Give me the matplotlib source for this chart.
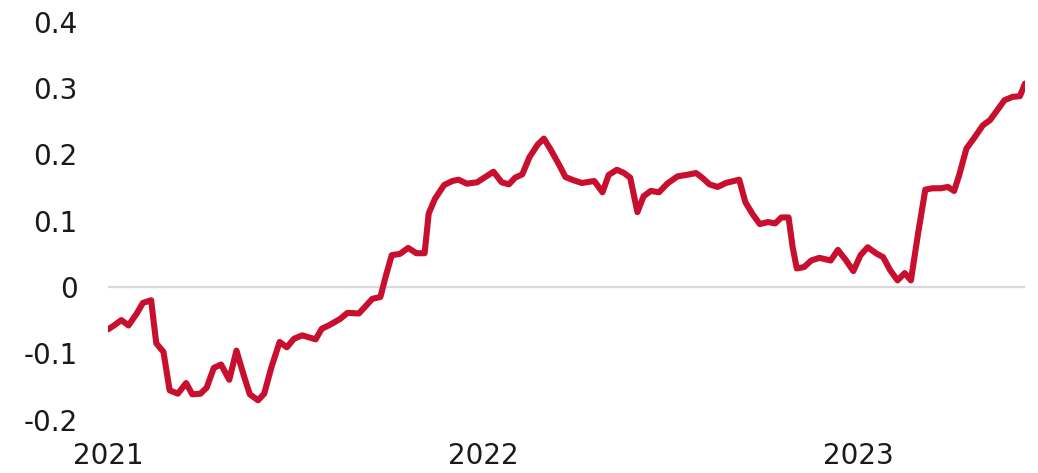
import matplotlib
matplotlib.use("Agg")
import matplotlib.pyplot as plt
import pandas as pd

dates = [
    "2021-01-01", "2021-01-06", "2021-01-14", "2021-01-21", "2021-01-29", "2021-02-04",
    "2021-02-12", "2021-02-17", "2021-02-24", "2021-03-02", "2021-03-10", "2021-03-18",
    "2021-03-24", "2021-04-01", "2021-04-07", "2021-04-14", "2021-04-21", "2021-04-29",
    "2021-05-06", "2021-05-13", "2021-05-19", "2021-05-27", "2021-06-02", "2021-06-09",
    "2021-06-17", "2021-06-24", "2021-07-01", "2021-07-09", "2021-07-22", "2021-07-28",
    "2021-08-05", "2021-08-15", "2021-08-22", "2021-09-02", "2021-09-08", "2021-09-15",
    "2021-09-23", "2021-09-28", "2021-10-04", "2021-10-12", "2021-10-20", "2021-10-28",
    "2021-11-05", "2021-11-09", "2021-11-15", "2021-11-24", "2021-12-02", "2021-12-08",
    "2021-12-16", "2021-12-26", "2022-01-03", "2022-01-11", "2022-01-19", "2022-01-26",
    "2022-02-01", "2022-02-08", "2022-02-15", "2022-02-23", "2022-03-01", "2022-03-07",
    "2022-03-16", "2022-03-22", "2022-03-30", "2022-04-07", "2022-04-19", "2022-04-27",
    "2022-05-03", "2022-05-11", "2022-05-18", "2022-05-24", "2022-05-31", "2022-06-06",
    "2022-06-13", "2022-06-21", "2022-06-29", "2022-07-09", "2022-07-17", "2022-07-27",
    "2022-08-02", "2022-08-09", "2022-08-17", "2022-08-25", "2022-09-07", "2022-09-13",
    "2022-09-20", "2022-09-27", "2022-10-05", "2022-10-12", "2022-10-18", "2022-10-25",
    "2022-10-29", "2022-11-02", "2022-11-09", "2022-11-16", "2022-11-24", "2022-12-05",
    "2022-12-12", "2022-12-20", "2022-12-27", "2023-01-03", "2023-01-10", "2023-01-18",
    "2023-01-25", "2023-02-01", "2023-02-08", "2023-02-15", "2023-02-21", "2023-02-28",
    "2023-03-07", "2023-03-14", "2023-03-22", "2023-03-29", "2023-04-04", "2023-04-09",
    "2023-04-16", "2023-04-24", "2023-05-02", "2023-05-09", "2023-05-17", "2023-05-23",
    "2023-05-31", "2023-06-07", "2023-06-12",
]

values = [
    -0.064, -0.059, -0.050, -0.058, -0.040, -0.024,
    -0.020, -0.085, -0.098, -0.156, -0.161, -0.145,
    -0.162, -0.161, -0.152, -0.122, -0.117, -0.140,
    -0.096, -0.133, -0.162, -0.171, -0.161, -0.121,
    -0.083, -0.091, -0.078, -0.073, -0.079, -0.063,
    -0.057, -0.048, -0.039, -0.040, -0.030, -0.018,
    -0.015, 0.015, 0.048, 0.050, 0.059, 0.051,
    0.051, 0.111, 0.133, 0.154, 0.160, 0.162,
    0.156, 0.158, 0.166, 0.174, 0.158, 0.155,
    0.165, 0.170, 0.196, 0.215, 0.224, 0.209,
    0.184, 0.166, 0.161, 0.157, 0.160, 0.143,
    0.169, 0.177, 0.172, 0.165, 0.113, 0.137,
    0.145, 0.143, 0.156, 0.167, 0.169, 0.172,
    0.165, 0.155, 0.151, 0.157, 0.162, 0.128,
    0.110, 0.095, 0.098, 0.096, 0.105, 0.105,
    0.060, 0.028, 0.030, 0.040, 0.044, 0.040,
    0.056, 0.040, 0.024, 0.048, 0.060, 0.051,
    0.045, 0.025, 0.010, 0.021, 0.010, 0.081,
    0.147, 0.149, 0.149, 0.151, 0.145, 0.169,
    0.209, 0.226, 0.244, 0.252, 0.269, 0.282,
    0.287, 0.288, 0.307,
]

y_ticks = [-0.2, -0.1, 0, 0.1, 0.2, 0.3, 0.4]
y_tick_labels = ["-0.2", "-0.1", "0", "0.1", "0.2", "0.3", "0.4"]
x_ticks = ["2021-01-01", "2022-01-01", "2023-01-01"]
x_tick_labels = ["2021", "2022", "2023"]

x = pd.to_datetime(dates)

fig = plt.figure(figsize=(10.38, 4.73), dpi=100)
ax = fig.add_axes([0.104, 0.1131, 0.8835, 0.8404])

ax.axhline(0, color="#d9d9d9", linewidth=1.6, zorder=1)
ax.plot(x, values, color="#C8102E", linewidth=4.4,
        solid_capstyle="round", solid_joinstyle="round", zorder=3)

ax.set_xlim(pd.Timestamp("2021-01-01"), pd.Timestamp("2023-06-12"))
ax.set_ylim(-0.2, 0.4)

ax.set_yticks(y_ticks)
ax.set_yticklabels(y_tick_labels)
ax.set_xticks(pd.to_datetime(x_ticks))
ax.set_xticklabels(x_tick_labels)

for s in ax.spines.values():
    s.set_visible(False)

ax.tick_params(axis="y", length=0, pad=22, labelsize=20, labelcolor="#1a1a1a")
ax.tick_params(axis="x", length=0, pad=16, labelsize=20, labelcolor="#1a1a1a")

fig.savefig("out.png", dpi=100, facecolor="white")
